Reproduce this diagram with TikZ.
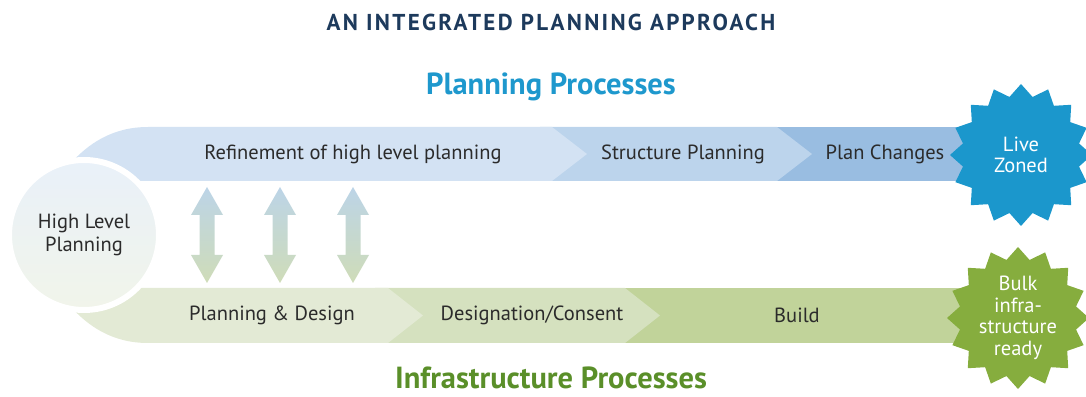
\documentclass[tikz,border=0pt]{standalone}
\usepackage{fontspec}
\setmainfont{PT Sans}
\usetikzlibrary{shapes.geometric}
\definecolor{navy}{HTML}{1D3A5C}
\definecolor{skyblue}{HTML}{1E98CD}
\definecolor{leafgreen}{HTML}{5A8F29}
\definecolor{textgrey}{HTML}{2B2B2B}
\definecolor{plan-a}{HTML}{D3E2F3}
\definecolor{plan-b}{HTML}{BCD4EC}
\definecolor{plan-c}{HTML}{99BDE1}
\definecolor{infra-a}{HTML}{E3EAD5}
\definecolor{infra-b}{HTML}{D5E1BF}
\definecolor{infra-c}{HTML}{C1D39A}
\definecolor{star-blue}{HTML}{1B97CC}
\definecolor{star-green}{HTML}{86AD3E}
\definecolor{arrow-top}{HTML}{BCD4E7}
\definecolor{arrow-bottom}{HTML}{CFDCB8}
\tikzset{
    band-text/.style = {text=textgrey, font=\fontsize{20.5}{23}\selectfont},
    process-title/.style = {anchor=base, inner sep=1pt, font=\bfseries\fontsize{30.5}{34}\selectfont},
    burst/.style = {star, star points=16, star point ratio=1.2, minimum size=142pt, inner sep=0pt, text=white, align=center, font=\fontsize{20.5}{21.5}\selectfont},
    both-way/.style = {top color=arrow-top, bottom color=arrow-bottom, draw=none},
}
\begin{document}
\begin{tikzpicture}[x=1pt,y=1pt]
\useasboundingbox (0,0) rectangle (1086,396);
\node[anchor=base, inner sep=1pt, font=\bfseries\fontsize{23}{26}\selectfont\addfontfeature{LetterSpace=10}, text=navy] (title) at (551,365) {AN INTEGRATED PLANNING APPROACH};
\node[process-title, text=skyblue] (plan-title) at (551,301) {Planning Processes};
\node[process-title, text=leafgreen] (infra-title) at (551,8) {Infrastructure Processes};

% planning band
\fill[plan-c] (760,269) rectangle (1000,215);
\fill[plan-b] (540,269) -- (777,269) -- (812,242) -- (777,215) -- (540,215) -- cycle;
\fill[plan-a] (587,242) -- (552,269) -- (148,269) .. controls (112,269) and (88,252) .. (70,232) -- (120,215) -- (552,215) -- cycle;
\node[band-text] (refine) at (353,242) {Refinement of high level planning};
\node[band-text] (structure) at (683,242) {Structure Planning};
\node[band-text] (changes) at (885,242) {Plan Changes};

% infrastructure band
\fill[infra-c] (610,108) rectangle (1000,53);
\fill[infra-b] (375,108) -- (625,108) -- (660,80.5) -- (625,53) -- (375,53) -- cycle;
\fill[infra-a] (423,80.5) -- (388,108) -- (120,108) -- (70,90) .. controls (88,70) and (112,53) .. (148,53) -- (388,53) -- cycle;
\node[band-text] (design) at (272,80.5) {Planning \& Design};
\node[band-text] (consent) at (532,80.5) {Designation/Consent};
\node[band-text] (build) at (797,80.5) {Build};

% two-way arrows
\foreach \x in {207,280,353}
    \shade[both-way] (\x,209) -- (\x+16,181) -- (\x+7.5,181) -- (\x+7.5,141) -- (\x+16,141) -- (\x,113)
        -- (\x-16,141) -- (\x-7.5,141) -- (\x-7.5,181) -- (\x-16,181) -- cycle;

\node[circle, minimum size=150pt, draw=white, line width=6pt, top color=plan-a!50, bottom color=infra-a!50,
    align=center, band-text] (high-level) at (84,161) {High Level\\Planning};

\node[burst, fill=star-blue] (zoned) at (1021,241) {Live\\Zoned};
\node[burst, fill=star-green] (ready) at (1018,78) {Bulk\\infra-\\structure\\ready};
\end{tikzpicture}
\end{document}
